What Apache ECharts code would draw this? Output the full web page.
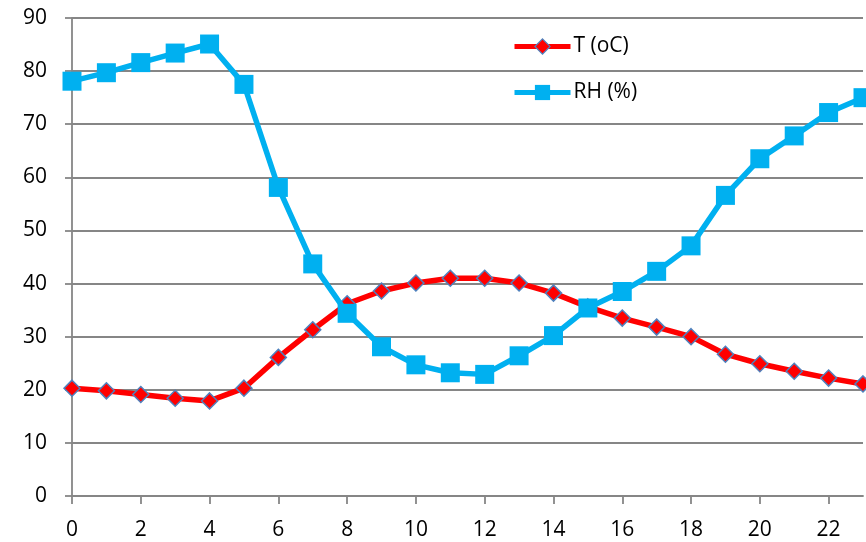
<!DOCTYPE html>
<html>
<head>
<meta charset="utf-8">
<script src="https://cdn.jsdelivr.net/npm/echarts@6/dist/echarts.min.js"></script>
<style>html,body{margin:0;padding:0;background:#fff}#c{width:866px;height:542px}</style>
</head>
<body>
<div id="c"></div>
<script>
const hours = [0,1,2,3,4,5,6,7,8,9,10,11,12,13,14,15,16,17,18,19,20,21,22,23];
const tempC = [20.3,19.8,19.1,18.4,17.9,20.3,26.1,31.3,36.2,38.6,40.1,41.0,41.0,40.1,38.2,35.6,33.5,31.8,30.0,26.7,24.9,23.5,22.2,21.1];
const rh = [78.1,79.7,81.6,83.4,85.1,77.5,58.1,43.7,34.4,28.1,24.7,23.2,22.9,26.4,30.2,35.4,38.5,42.3,47.1,56.6,63.5,67.8,72.2,75.0];
const seriesNames = ['T (oC)', 'RH (%)'];

const font = 'Open Sans';
const red = '#FF0000', blue = '#00B0F0', edge = '#4F81BD', grey = '#868686';
const chart = echarts.init(document.getElementById('c'));
chart.setOption({
  animation: false,
  backgroundColor: '#ffffff',
  grid: {left: 72, right: 3, top: 18, bottom: 46, containLabel: false, outerBoundsMode: 'none'},
  legend: {
    orient: 'vertical',
    left: 507,
    top: 31,
    itemWidth: 56,
    itemHeight: 19,
    itemGap: 25,
    textStyle: {fontFamily: font, fontSize: 21, color: '#000', padding: [0,0,0,-2]},
    data: [
      {name: seriesNames[0], lineStyle: {width: 5, color: red}, itemStyle: {color: red, borderColor: edge, borderWidth: 1.2}},
      {name: seriesNames[1], lineStyle: {width: 5, color: blue}, itemStyle: {color: blue}}
    ]
  },
  xAxis: {
    type: 'value', min: 0, max: 23, interval: 2,
    axisLine: {lineStyle: {color: grey, width: 1.8}},
    axisTick: {show: true, length: 8, lineStyle: {color: grey, width: 1.8}},
    axisLabel: {fontFamily: font, fontSize: 21, color: '#000', margin: 24, showMaxLabel: false},
    splitLine: {show: false}
  },
  yAxis: {
    type: 'value', min: 0, max: 90, interval: 10,
    axisLine: {show: true, lineStyle: {color: grey, width: 1.8}},
    axisTick: {show: true, length: 7, lineStyle: {color: grey, width: 1.8}},
    axisLabel: {fontFamily: font, fontSize: 21, color: '#000', margin: 25},
    splitLine: {lineStyle: {color: grey, width: 1.8}}
  },
  series: [
    {
      name: seriesNames[0], type: 'line',
      data: hours.map((h, i) => [h, tempC[i]]),
      symbol: 'diamond', symbolSize: 16,
      lineStyle: {color: red, width: 5.5},
      itemStyle: {color: red, borderColor: edge, borderWidth: 1.5},
      clip: false, z: 3
    },
    {
      name: seriesNames[1], type: 'line',
      data: hours.map((h, i) => [h, rh[i]]),
      symbol: 'rect', symbolSize: 19,
      lineStyle: {color: blue, width: 5.5},
      itemStyle: {color: blue},
      clip: false, z: 4
    }
  ]
});
</script>
</body>
</html>
